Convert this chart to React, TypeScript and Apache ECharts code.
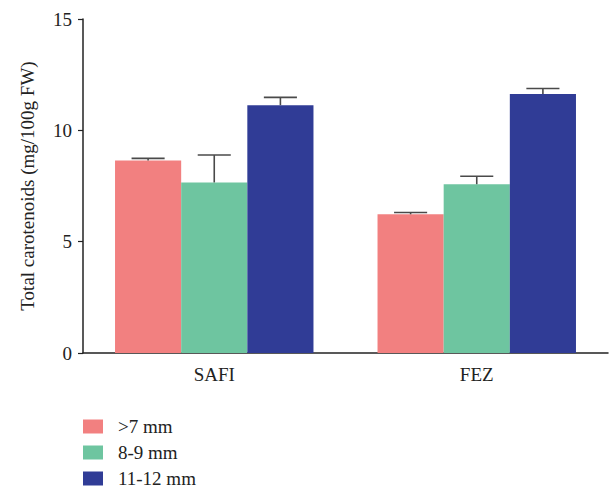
import React, { useEffect, useRef } from "react";
import * as echarts from "echarts";

const categories = ["SAFI", "FEZ"];
const seriesNames = [">7 mm", "8-9 mm", "11-12 mm"];
const means = [
  [8.65, 6.23],
  [7.66, 7.58],
  [11.13, 11.63],
];
const errors = [
  [0.09, 0.08],
  [1.23, 0.36],
  [0.35, 0.25],
];
const colors = ["#F28080", "#6EC5A0", "#303C96"];
const yTicks = { min: 0, max: 15, interval: 5 };

const FONT = "Liberation Serif";

export default function App() {
  const ref = useRef<HTMLDivElement>(null);
  useEffect(() => {
    if (!ref.current) return;
    const chart = echarts.init(ref.current, null, { renderer: "svg" });
    const nS = seriesNames.length;
    const barSeries = seriesNames.map((name, i) => ({
      name,
      type: "bar",
      data: means[i],
      itemStyle: { color: colors[i] },
      barGap: "0%",
      barCategoryGap: "24.4%",
      z: 2,
    }));
    const errData: number[][] = [];
    means.forEach((arr, si) =>
      arr.forEach((v, ci) => errData.push([ci, v, v + errors[si][ci], si]))
    );
    const errSeries = {
      type: "custom",
      name: "err",
      data: errData,
      z: 3,
      renderItem: (params: any, api: any) => {
        const ci = api.value(0);
        const si = api.value(3);
        const base = api.coord([ci, api.value(1)]);
        const top = api.coord([ci, api.value(2)]);
        const bandW = api.size([1, 0])[0];
        const groupW = bandW * (1 - 0.244);
        const bw = groupW / nS;
        const cx = base[0] - groupW / 2 + bw * (si + 0.5);
        const capHalf = bw / 4;
        const style = { stroke: "#4a4a4a", lineWidth: 1.6 };
        return {
          type: "group",
          children: [
            { type: "line", shape: { x1: cx, y1: base[1], x2: cx, y2: top[1] }, style },
            { type: "line", shape: { x1: cx - capHalf, y1: top[1], x2: cx + capHalf, y2: top[1] }, style },
          ],
        };
      },
    };
    chart.setOption({
      animation: false,
      textStyle: { fontFamily: FONT },
      grid: { left: 83, right: 1, top: 19, bottom: 137, containLabel: false },
      legend: {
        data: seriesNames,
        orient: "vertical",
        left: 83,
        top: 417,
        height: 80,
        padding: 0,
        itemWidth: 20,
        itemHeight: 14,
        itemGap: 7,
        icon: "rect",
        textStyle: { fontFamily: FONT, fontSize: 19, color: "#222", padding: [0, 0, 0, 10] },
      },
      xAxis: {
        type: "category",
        data: categories,
        axisLine: { lineStyle: { color: "#222", width: 1.5 } },
        axisTick: { alignWithLabel: true, length: 5, lineStyle: { color: "#222", width: 1.2 } },
        axisLabel: { fontFamily: FONT, fontSize: 19, color: "#222", margin: 12 },
      },
      yAxis: {
        type: "value",
        min: yTicks.min,
        max: yTicks.max,
        interval: yTicks.interval,
        name: "Total carotenoids (mg/100g FW)",
        nameLocation: "middle",
        nameGap: 46,
        nameTextStyle: { fontFamily: FONT, fontSize: 19, color: "#222" },
        splitLine: { show: false },
        axisLine: { show: true, lineStyle: { color: "#222", width: 1.5 } },
        axisTick: { show: true, length: 5, lineStyle: { color: "#222", width: 1.2 } },
        axisLabel: { fontFamily: FONT, fontSize: 19, color: "#222", margin: 11 },
      },
      series: [...barSeries, errSeries],
    });
    return () => chart.dispose();
  }, []);
  return (
    <div
      ref={ref}
      style={{ position: "absolute", left: 0, top: 0, width: 609, height: 490, background: "#fff" }}
    />
  );
}
